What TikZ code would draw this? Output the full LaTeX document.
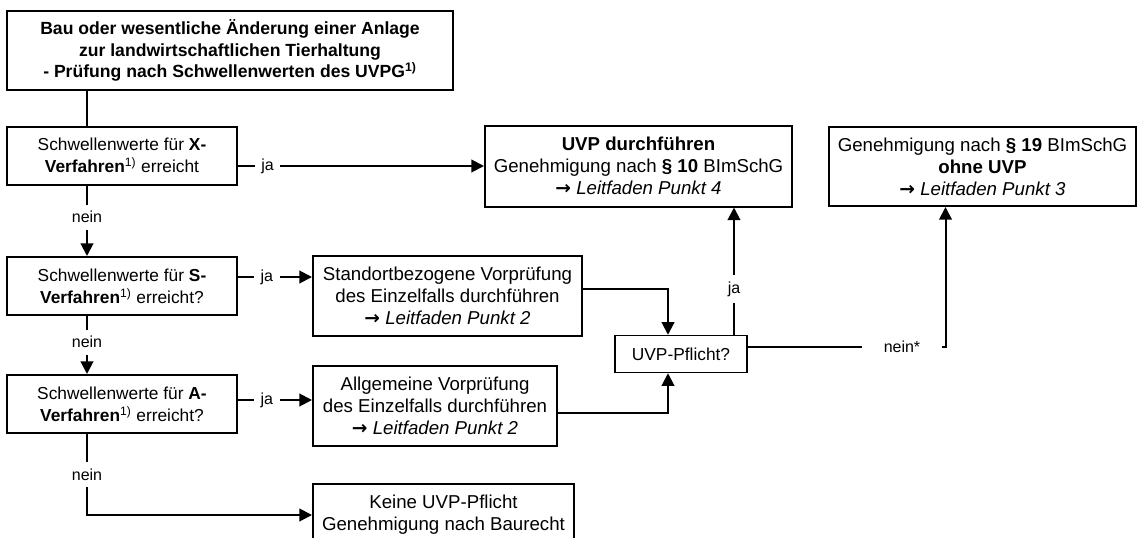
\documentclass[tikz,border=0pt]{standalone}
\usepackage{fontspec}
\setmainfont{Liberation Sans}
\newfontfamily\arrowfont{DejaVu Sans}
\usetikzlibrary{arrows.meta,calc,positioning}

\newcommand{\lfarrow}{{\arrowfont\bfseries →}}

\tikzset{
  box/.style={draw, line width=1.5pt, align=center, inner sep=0pt,
    font=\fontsize{13}{16.5}\selectfont},
  thinbox/.style={box, line width=1.1pt},
  lbl/.style={fill=white, inner sep=5pt, font=\fontsize{12}{14}\selectfont},
  ln/.style={line width=1.5pt},
  arr/.style={ln, -{Triangle[length=9.5pt,width=9.5pt]}},
}

\begin{document}
\begin{tikzpicture}[x=0.75pt,y=0.75pt,yscale=-1,xscale=1]
\useasboundingbox (0,0) rectangle (1140,537);

%Shape: Rectangle [top]
\node[box, minimum width=334.5pt, minimum height=59.25pt, font=\fontsize{13.2}{16}\selectfont\bfseries] (start) at (230,50.5)
  {Bau oder wesentliche Änderung einer Anlage\\zur landwirtschaftlichen Tierhaltung\\- Prüfung nach Schwellenwerten des UVPG\textsuperscript{1)}};

%Shape: Rectangle [threshold checks]
\node[box, minimum width=172.5pt, minimum height=43.5pt] (xcheck) at (122,155.5)
  {Schwellenwerte für \textbf{X-}\\\textbf{Verfahren}\textsuperscript{1)} erreicht};
\node[box, minimum width=172.5pt, minimum height=43.5pt] (scheck) at (122,286)
  {Schwellenwerte für \textbf{S-}\\\textbf{Verfahren}\textsuperscript{1)} erreicht?};
\node[box, minimum width=172.5pt, minimum height=43.5pt] (acheck) at (122,404)
  {Schwellenwerte für \textbf{A-}\\\textbf{Verfahren}\textsuperscript{1)} erreicht?};

%Shape: Rectangle [results]
\node[box, minimum width=230.25pt, minimum height=60.75pt, font=\fontsize{14}{16.5}\selectfont] (uvp) at (638.5,166)
  {\textbf{UVP durchführen}\\Genehmigung nach \textbf{§ 10} BImSchG\\\lfarrow\ \textit{Leitfaden Punkt 4}};
\node[box, minimum width=230.25pt, minimum height=59.25pt, font=\fontsize{14}{16.5}\selectfont] (ohneuvp) at (982.5,166.5)
  {Genehmigung nach \textbf{§ 19} BImSchG\\\textbf{ohne UVP}\\\lfarrow\ \textit{Leitfaden Punkt 3}};
\node[box, minimum width=201.75pt, minimum height=60pt, font=\fontsize{14}{16.5}\selectfont] (svor) at (447.5,296)
  {Standortbezogene Vorprüfung\\des Einzelfalls durchführen\\\lfarrow\ \textit{Leitfaden Punkt 2}};
\node[box, minimum width=183pt, minimum height=60pt, font=\fontsize{14}{16.5}\selectfont] (avor) at (435,406)
  {Allgemeine Vorprüfung\\des Einzelfalls durchführen\\\lfarrow\ \textit{Leitfaden Punkt 2}};
\node[thinbox, minimum width=99pt, minimum height=27.75pt] (pflicht) at (681,354)
  {UVP-Pflicht?};
\node[box, minimum width=195.75pt, minimum height=46.5pt, font=\fontsize{14}{16.5}\selectfont] (keine) at (443.5,515)
  {Keine UVP-Pflicht\\Genehmigung nach Baurecht};

% left spine
\coordinate (sp) at (87,0);
\draw[ln] (start.south -| sp) -- (xcheck.north -| sp);
\draw[arr] (xcheck.south -| sp) -- node[lbl, pos=0.45] {nein} (scheck.north -| sp);
\draw[arr] (scheck.south -| sp) -- node[lbl, pos=0.45] {nein} (acheck.north -| sp);
\draw[arr] (acheck.south -| sp) |- node[lbl, pos=0.25] {nein} (keine.west);

% ja branches
\draw[arr] (uvp.west -| xcheck.east) -- node[lbl, pos=0.12] {ja} (uvp.west);
\draw[arr] ($(scheck.east)+(0,-9)$) coordinate (sja) -- node[lbl, pos=0.39] {ja} (sja -| svor.west);
\draw[arr] ($(acheck.east)+(0,-4)$) coordinate (aja) -- node[lbl, pos=0.39] {ja} (aja -| avor.west);

% into UVP-Pflicht
\draw[arr] ($(svor.east)+(0,-7)$) -| ($(pflicht.north)+(-13,0)$);
\draw[arr] ($(avor.east)+(0,7)$) -| ($(pflicht.south)+(-13,0)$);

% out of UVP-Pflicht
\draw[arr] ($(pflicht.north)+(53,0)$) coordinate (pja) -- node[lbl, pos=0.36] {ja} (pja |- uvp.south);
\draw[arr] ($(pflicht.east)+(0,-7)$) -| node[lbl, pos=0.39, inner xsep=16pt] {nein*} ($(ohneuvp.south)+(-37,0)$);

\end{tikzpicture}
\end{document}
